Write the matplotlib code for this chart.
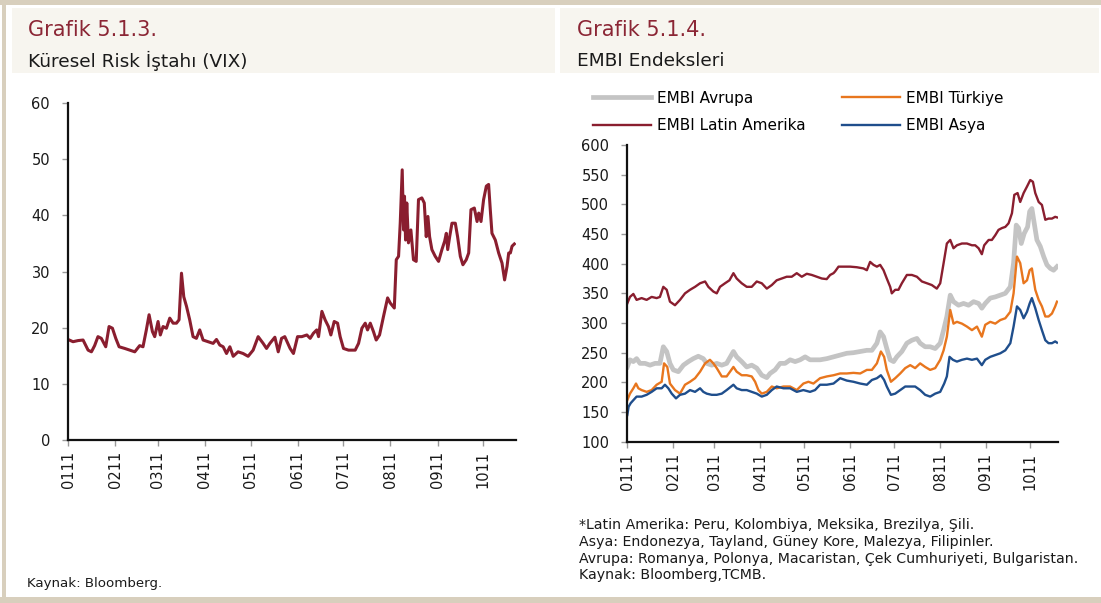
# Grafik 5.1.3 / 5.1.4 - VIX ve EMBI endeksleri (2011)

import matplotlib.pyplot as plt
from matplotlib.patches import Rectangle

W, H = 1101, 603

# ay baslari (yilin gunu) ve etiketleri
tick_days = [0, 31, 59, 90, 120, 151, 181, 212, 243, 273]
tick_labels = ['0111', '0211', '0311', '0411', '0511', '0611', '0711', '0811', '0911', '1011']

# VIX
vix_day = [0, 3.3, 6.6, 9.9, 13.2, 15.4, 17.5, 19.7, 21.9, 24.8, 27, 29.2, 31.4, 33.6, 37.3,
           40.6, 43.9, 47.1, 49.3, 51.5, 53.3, 55.5, 57, 59.2, 60.7, 62.5, 64.7, 66.9, 69.1,
           71.3, 73, 74.6, 76.1, 77.9, 80, 82.2, 84.4, 86.6, 88.8, 92.1, 95.4, 97.6, 99.8,
           102, 104.2, 106.4, 108.6, 111.8, 115.1, 118.4, 121.7, 125, 128.3, 130.5, 132.7,
           136, 138.2, 140.4, 142.5, 146, 148.2, 150.9, 153.7, 157, 159.2, 161.3, 163.5,
           164.7, 166.9, 169, 171.2, 172.8, 175, 177.2, 178.9, 181.1, 184.4, 188.8, 191,
           193.2, 195.4, 196.9, 198.7, 200.8, 202.6, 204.8, 207.4, 210.1, 211.8, 214.5,
           215.8, 217.3, 218.4, 219.7, 220.6, 221.2, 221.9, 222.7, 223.8, 225.4, 227.1,
           228.9, 230.4, 232.6, 234.2, 235.5, 236.6, 237.7, 239.2, 241.4, 243.6, 245.8,
           247.6, 248.7, 249.6, 250.9, 252.4, 254.6, 256.1, 257.9, 259.6, 261.8, 263.4,
           264.9, 267.1, 268.9, 270, 271.5, 273.2, 275, 276.5, 277.6, 278.7, 280.9, 283.1,
           285.3, 287, 288.6, 289.7, 290.8, 291.9, 293.4]
vix = [17.9, 17.5, 17.7, 17.8, 16, 15.7, 16.8, 18.4, 18.1, 16.6, 20.2, 19.9, 18.1, 16.6, 16.3,
       16, 15.7, 16.8, 16.6, 19.6, 22.3, 19.3, 18.4, 21.1, 18.7, 20.2, 19.9, 21.7, 20.8,
       20.8, 21.4, 29.7, 25.5, 23.8, 21.4, 18.4, 18.1, 19.6, 17.8, 17.5, 17.2, 17.9, 16.9,
       16.6, 15.4, 16.6, 14.9, 15.7, 15.4, 14.9, 16, 18.4, 17.2, 16.3, 17.2, 18.3, 15.7,
       18.1, 18.4, 16.3, 15.4, 18.4, 18.4, 18.7, 18.1, 19, 19.6, 18.4, 22.9, 21.4, 20.2,
       18.7, 21.1, 20.8, 18.4, 16.3, 16, 16, 17.2, 19.9, 20.8, 19.6, 20.8, 19.3, 17.8,
       18.7, 22, 25.3, 24.4, 23.5, 32.1, 32.7, 38.6, 48.1, 37.4, 43.4, 35.6, 42.2, 35.1,
       37.4, 32.1, 31.8, 42.8, 43.1, 42.2, 36.2, 39.8, 36.2, 33.9, 32.7, 31.8, 33.9, 35.4,
       36.8, 33.9, 36.2, 38.6, 38.6, 36.2, 32.7, 31.2, 32.1, 33.3, 41, 41.3, 38.9, 40.4,
       38.9, 42.8, 45.2, 45.5, 41, 36.8, 35.6, 33.3, 31.5, 28.5, 30.9, 33.3, 33.3, 34.5,
       34.9]

# EMBI Latin Amerika
latam_day = [0, 1.8, 4.1, 6.3, 9.7, 13.1, 16.5, 19.9, 22.1, 24.4, 26.7, 28.9, 32.3, 35.7,
             39.1, 42.5, 45.9, 49.3, 52.7, 54.9, 58.3, 60.6, 62.8, 66.2, 69.2, 71.9, 74.1,
             77.5, 80.9, 84.3, 87.7, 91.1, 94.5, 97.9, 101.2, 104.6, 108, 111.4, 114.8,
             118.2, 121.6, 125, 128.4, 131.8, 135.1, 137.4, 139.7, 140.8, 143.1, 146.5, 151,
             155.5, 160, 162.3, 164.5, 166.8, 169.1, 171.3, 173.6, 175.8, 178.1, 179.2,
             181.5, 183.7, 186, 189.4, 192.8, 196.2, 199.6, 203, 206.3, 209.7, 212, 214.3,
             216.5, 218.8, 221, 223.3, 226.7, 230.1, 233.5, 235.7, 238, 240.2, 241.8, 244.8,
             247, 249.3, 251.5, 253.8, 256.1, 258.3, 260.6, 262.2, 264.4, 266.2, 268.5,
             270.8, 273, 274.8, 276.4, 278.7, 280.9, 283.2, 285.4, 287.7, 289.9, 291.1]
latam = [333, 344, 349, 339, 342, 339, 344, 342, 344, 361, 356, 336, 330, 339, 350, 356, 361,
         367, 370, 361, 353, 350, 361, 367, 372, 384, 375, 367, 361, 361, 370, 367, 358, 364,
         372, 375, 378, 378, 384, 378, 383, 381, 378, 375, 374, 381, 384, 387, 395, 395, 395,
         394, 392, 389, 403, 398, 395, 398, 389, 375, 361, 350, 356, 356, 367, 381, 381, 378,
         370, 367, 364, 358, 367, 401, 434, 440, 426, 431, 434, 434, 431, 431, 426, 416, 431,
         440, 440, 448, 457, 460, 462, 468, 485, 516, 519, 504, 519, 530, 541, 538, 519, 504,
         499, 474, 476, 476, 479, 478]

# EMBI Avrupa
eur_day = [0, 1.8, 4.1, 6.3, 8.6, 12, 15.4, 18.8, 22.1, 24.4, 26.7, 28.9, 31.2, 34.6, 38,
           41.4, 44.7, 48.1, 51.5, 53.8, 57.2, 60.6, 64, 67.3, 71.9, 74.1, 77.5, 80.9, 84.3,
           87.7, 91.1, 94.5, 96.7, 100.1, 103.5, 106.9, 110.3, 113.7, 117.1, 120.5, 123.8,
           127.2, 130.6, 135.2, 139.7, 144.2, 148.7, 153.2, 157.8, 162.3, 165.7, 169.1,
           171.3, 173.6, 175.8, 178.1, 180.4, 182.6, 186, 189.4, 192.8, 196.2, 198.4, 201.8,
           205.2, 208.6, 212, 214.3, 216.5, 218.8, 221, 224.4, 227.8, 231.2, 234.6, 238,
           240.2, 242.5, 245.9, 249.3, 252.7, 256.1, 259.5, 261.7, 263.5, 265.1, 266.9,
           268.9, 271.2, 272.6, 274.1, 275.7, 277.5, 279.8, 282.1, 284.3, 286.6, 288.8, 291.1]
eur = [226, 238, 235, 240, 232, 232, 229, 232, 232, 260, 252, 232, 221, 218, 229, 235, 240,
       244, 240, 232, 229, 232, 229, 232, 252, 243, 235, 226, 229, 224, 212, 208, 215, 221,
       232, 232, 238, 235, 238, 243, 238, 238, 238, 240, 243, 246, 249, 250, 252, 254, 254,
       266, 285, 277, 257, 238, 235, 243, 252, 266, 271, 274, 266, 260, 260, 257, 266, 288,
       311, 347, 336, 330, 333, 330, 336, 333, 325, 333, 342, 344, 347, 350, 361, 401, 465,
       460, 434, 451, 462, 488, 493, 468, 440, 429, 412, 398, 392, 389, 395]

# EMBI Turkiye
tur_day = [0, 1.8, 4.1, 5.9, 7.5, 9.7, 13.1, 16.5, 19.9, 23.3, 24.9, 27.1, 28.9, 32.3,
           35.7, 39.1, 42.5, 45.9, 49.3, 52.7, 56, 58.3, 60.6, 64, 67.3, 71.9, 74.1, 77.5,
           80.9, 84.3, 86.6, 88.8, 91.1, 94.5, 97.9, 101.2, 105.8, 110.3, 114.8, 119.3,
           122.7, 126.1, 130.6, 135.2, 139.7, 144.2, 148.7, 153.2, 157.8, 162.3, 165.7,
           169.1, 171.8, 174, 175.8, 178.6, 181.5, 184.9, 188.3, 191.7, 195, 198.4, 201.8,
           205.2, 208.6, 212, 214.3, 216.5, 218.8, 221, 223.3, 226.7, 230.1, 233.5, 236.9,
           240.2, 242.5, 245.9, 249.3, 252.7, 256.1, 259.5, 261.7, 264, 266.2, 268.5,
           270.8, 272.6, 274.1, 276.4, 278.7, 280.9, 283.2, 285.4, 287.7, 289.9, 291.1]
tur = [170, 181, 190, 198, 190, 187, 184, 187, 196, 201, 232, 226, 198, 187, 181, 196, 201,
       207, 218, 232, 238, 232, 224, 210, 210, 226, 218, 212, 212, 210, 201, 187, 181, 184,
       193, 190, 193, 193, 187, 198, 201, 198, 207, 210, 212, 215, 215, 216, 215, 221, 221,
       232, 252, 243, 221, 201, 207, 215, 224, 229, 224, 232, 226, 221, 224, 238, 254, 277,
       322, 299, 302, 299, 294, 288, 294, 277, 297, 302, 299, 305, 308, 319, 350, 412, 401,
       367, 372, 389, 392, 356, 339, 328, 311, 311, 316, 328, 336]

# EMBI Asya
asia_day = [0, 0.9, 2.3, 4.1, 6.3, 9.7, 13.1, 16.5, 19.9, 23.3, 25.5, 27.8, 30.1, 33,
            35.7, 39.1, 42.5, 45.9, 49.3, 51.5, 53.8, 57.2, 60.6, 64, 67.3, 71.9, 74.1,
            77.5, 80.9, 84.3, 87.7, 91.1, 94.5, 97.9, 101.2, 105.8, 110.3, 114.8, 119.3,
            123.8, 127.2, 130.6, 135.2, 139.7, 144.2, 148.7, 153.2, 157.8, 162.3, 165.7,
            169.1, 171.8, 174, 175.8, 178.6, 181.5, 184.9, 188.3, 191.7, 195, 198.4, 201.8,
            205.2, 208.6, 212, 214.7, 216.5, 218.3, 220.6, 223.3, 226.7, 230.1, 233.5,
            236.9, 240.2, 242.5, 245.9, 249.3, 252.7, 256.1, 259.5, 261.7, 264, 266.2,
            268.5, 270.8, 272.6, 274.1, 276.4, 278.7, 280.9, 283.2, 285.4, 287.7, 289.9,
            291.1]
asia = [145, 159, 165, 170, 176, 176, 179, 184, 190, 190, 196, 190, 181, 173, 179, 181, 187,
        184, 190, 184, 181, 179, 179, 181, 187, 196, 190, 187, 187, 184, 181, 176, 179, 187,
        193, 190, 190, 184, 187, 184, 187, 196, 196, 198, 207, 203, 201, 198, 196, 204, 207,
        212, 204, 193, 179, 181, 187, 193, 193, 193, 187, 179, 176, 181, 184, 198, 210, 243,
        238, 235, 238, 240, 238, 240, 229, 238, 243, 246, 249, 254, 266, 294, 328, 322, 308,
        319, 333, 342, 325, 305, 288, 271, 266, 266, 269, 267]

dark_red = '#8a1e2f'
title_red = '#8b2635'
FONT = 'DejaVu Sans'

fig = plt.figure(figsize=(W / 100, H / 100), dpi=100)
fig.patch.set_facecolor('white')


def box(x0, y0, x1, y1, color):
    fig.patches.append(Rectangle((x0 / W, 1 - y1 / H), (x1 - x0) / W, (y1 - y0) / H,
                                 transform=fig.transFigure, facecolor=color,
                                 edgecolor='none', zorder=0))


def ftext(x, y, s, **kw):
    fig.text(x / W, 1 - y / H, s, va='center', ha='left', family=FONT, **kw)


# cerceve ve baslik bantlari
box(0, 0, W, 5, '#d8cfbd')
box(2, 0, 6, H, '#d8cfbd')
box(0, 597, W, H, '#d8cfbd')
box(12, 8, 555, 73, '#f7f5ef')
box(560, 8, 1099, 73, '#f7f5ef')

ftext(28, 30, 'Grafik 5.1.3.', fontsize=15, color=title_red)
ftext(28, 61, 'Küresel Risk İştahı (VIX)', fontsize=13.3, color='#1a1a1a')
ftext(577, 30, 'Grafik 5.1.4.', fontsize=15, color=title_red)
ftext(577, 61, 'EMBI Endeksleri', fontsize=13.3, color='#1a1a1a')

ftext(27, 583, 'Kaynak: Bloomberg.', fontsize=9.6, color='#1a1a1a')
notes = ['*Latin Amerika: Peru, Kolombiya, Meksika, Brezilya, Şili.',
         'Asya: Endonezya, Tayland, Güney Kore, Malezya, Filipinler.',
         'Avrupa: Romanya, Polonya, Macaristan, Çek Cumhuriyeti, Bulgaristan.',
         'Kaynak: Bloomberg,TCMB.']
for i, n in enumerate(notes):
    ftext(579, 525 + i * 16.8, n, fontsize=10.2, color='#1a1a1a')


def style(ax, ylim, yticks, xmax):
    ax.set_xlim(0, xmax)
    ax.set_ylim(*ylim)
    ax.set_yticks(yticks)
    ax.set_xticks(tick_days)
    ax.set_xticklabels(tick_labels, rotation=90)
    for s in ['top', 'right']:
        ax.spines[s].set_visible(False)
    for s in ['left', 'bottom']:
        ax.spines[s].set_linewidth(1.6)
        ax.spines[s].set_color('#111111')
    ax.tick_params(axis='both', length=4, width=1, color='#999999', labelsize=10.5,
                   labelcolor='#1a1a1a')
    ax.tick_params(axis='y', pad=9)
    ax.tick_params(axis='x', pad=4)
    for lab in ax.get_xticklabels() + ax.get_yticklabels():
        lab.set_family(FONT)
    ax.patch.set_alpha(0)


# sol grafik: VIX
ax1 = fig.add_axes([68 / W, 1 - 440 / H, (516 - 68) / W, (440 - 103) / H])
ax1.plot(vix_day, vix, color=dark_red, lw=2.2)
style(ax1, (0, 60), range(0, 61, 10), 294.5)

# sag grafik: EMBI
ax2 = fig.add_axes([627.3 / W, 1 - 441.7 / H, (1058.3 - 627.3) / W, (441.7 - 145) / H])
l_eur, = ax2.plot(eur_day, eur, color='#c4c4c4', lw=3.4, label='EMBI Avrupa')
l_lat, = ax2.plot(latam_day, latam, color=dark_red, lw=1.7, label='EMBI Latin Amerika')
l_tur, = ax2.plot(tur_day, tur, color='#e8761e', lw=1.7, label='EMBI Türkiye')
l_asia, = ax2.plot(asia_day, asia, color='#1f4e8c', lw=1.7, label='EMBI Asya')
style(ax2, (100, 600), range(100, 601, 50), 292)

fig.legend(handles=[l_eur, l_lat, l_tur, l_asia], ncol=2, loc='upper left',
           bbox_to_anchor=(585 / W, 1 - 83 / H), frameon=False, borderpad=0,
           handlelength=3.8, handletextpad=0.4, columnspacing=2.4, labelspacing=0.8,
           prop={'family': FONT, 'size': 11})

fig.savefig('out.png', dpi=100)
